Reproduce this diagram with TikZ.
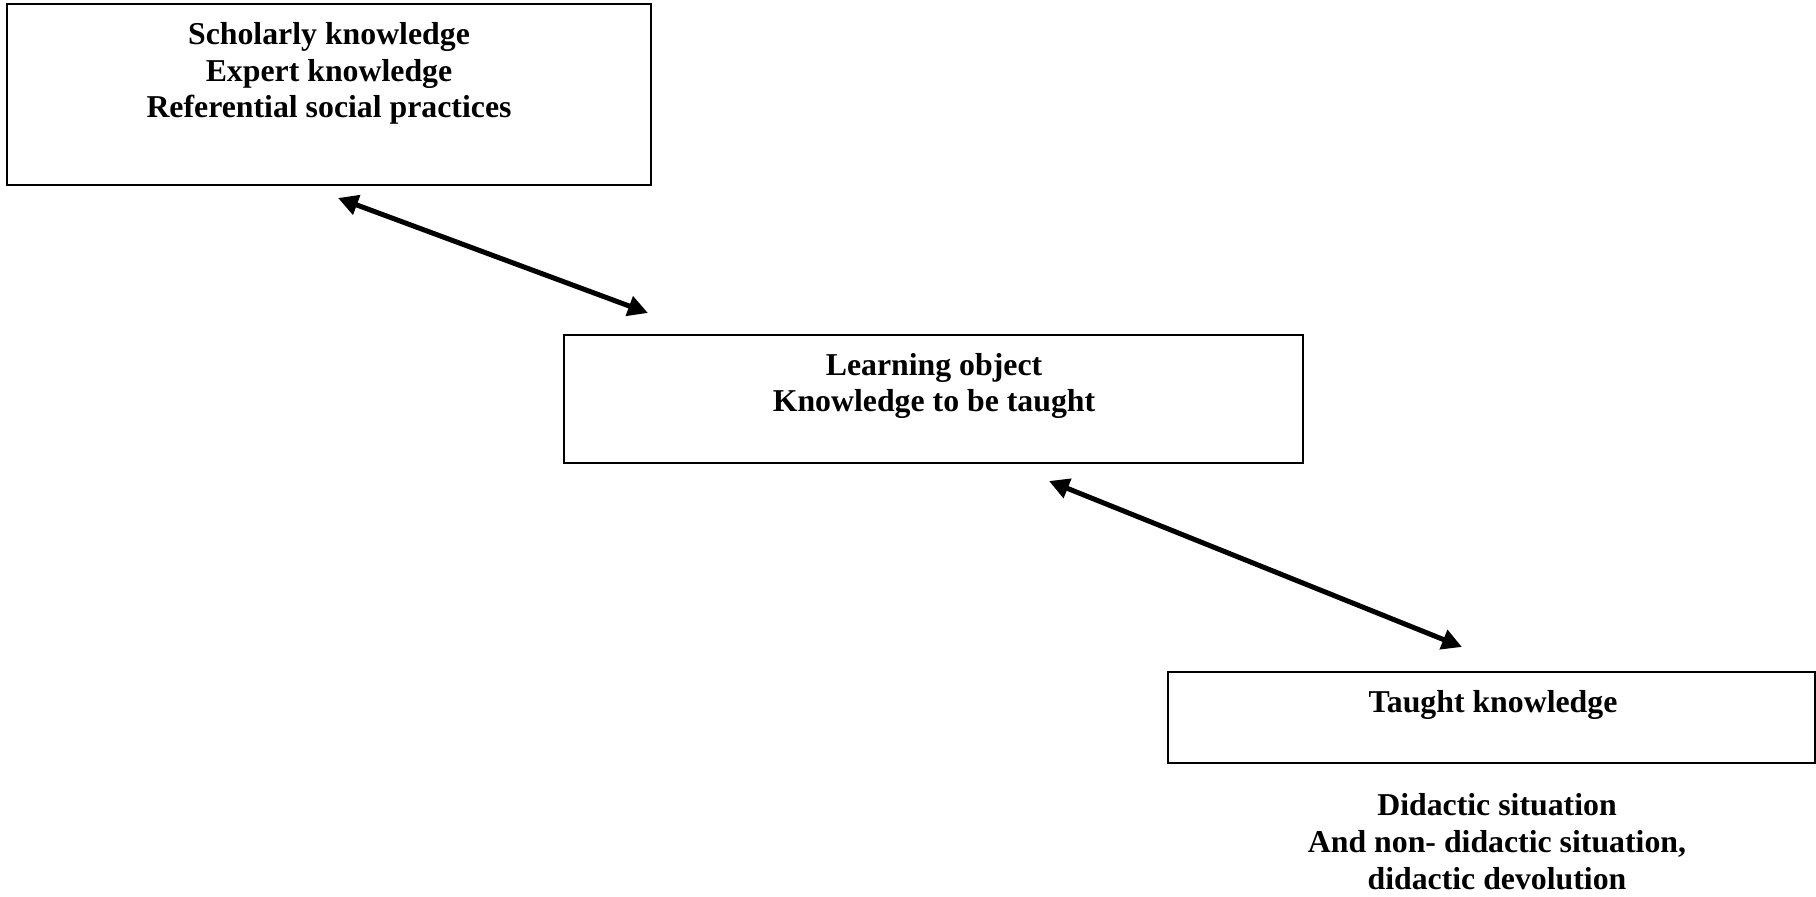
\documentclass[tikz,border=0pt]{standalone}
\usepackage{fontspec}
\setmainfont{Liberation Serif}
\usetikzlibrary{arrows.meta}
\tikzset{
  box/.style={draw=black, line width=1pt, rectangle, inner sep=0pt},
  txt/.style={align=center, inner sep=0pt, font=\bfseries\fontsize{15.9}{18.4}\selectfont},
  link/.style={line width=2.5pt, {Triangle[length=10pt,width=10pt]}-{Triangle[length=10pt,width=10pt]}}
}
\begin{document}
\begin{tikzpicture}[x=0.5pt, y=-0.5pt]
\useasboundingbox (0,0) rectangle (1816,897);
% boxes
\node[box, minimum width=322pt, minimum height=90.5pt] (b1) at (329,94.5) {};
\node[box, minimum width=369.5pt, minimum height=64pt] (b2) at (933.5,399) {};
\node[box, minimum width=323.5pt, minimum height=45.5pt] (b3) at (1491.5,717.5) {};
% texts (base anchor = baseline of last line)
\node[txt, anchor=base] (t1) at (329,118) {Scholarly knowledge\\Expert knowledge\\Referential social practices};
\node[txt, anchor=base] (t2) at (934,412) {Learning object\\Knowledge to be taught};
\node[txt, anchor=base] (t3) at (1493,713) {Taught knowledge};
\node[txt, anchor=base] (t4) at (1497,889) {Didactic situation\\And non- didactic situation,\\didactic devolution};
% connectors
\coordinate (a1s) at (338,198);
\coordinate (a1e) at (648,313);
\coordinate (a2s) at (1049,481);
\coordinate (a2e) at (1462,647);
\draw[link] (a1s) -- (a1e);
\draw[link] (a2s) -- (a2e);
\end{tikzpicture}
\end{document}
